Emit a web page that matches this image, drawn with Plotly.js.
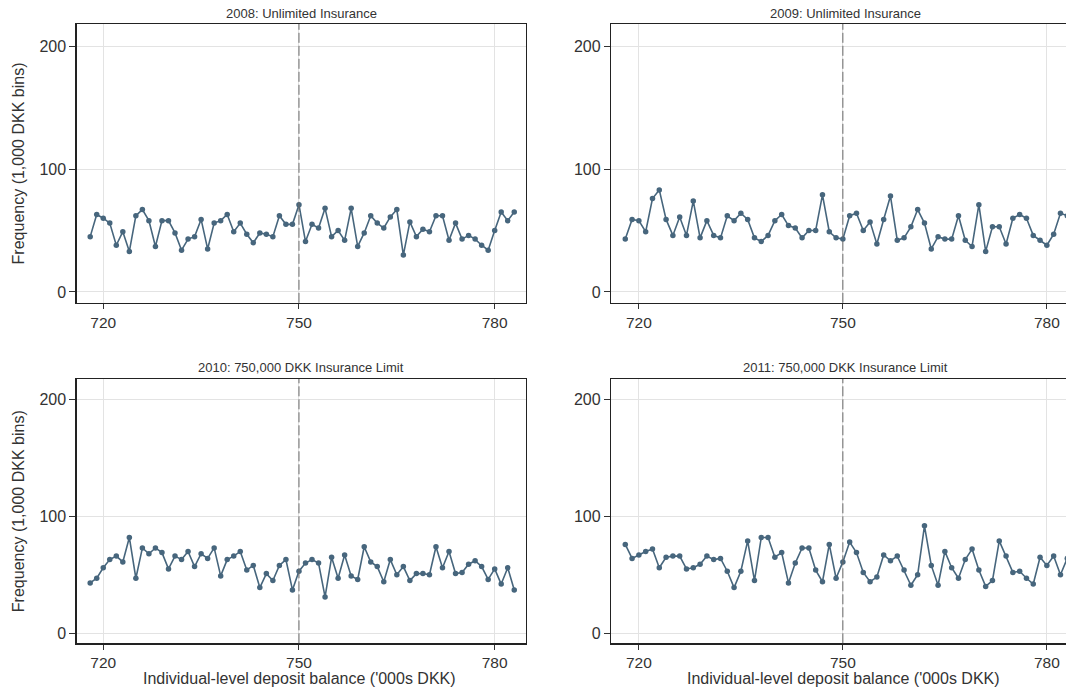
<!DOCTYPE html>
<html>
<head>
<meta charset="utf-8">
<script src="https://cdn.plot.ly/plotly-3.0.1.min.js"></script>
<style>
  html, body { margin: 0; padding: 0; overflow: hidden; background: #ffffff; }
  #chart { width: 1080px; height: 688px; }
</style>
</head>
<body>
<div id="chart"></div>
<script>
// Deposit balance bins ('000s DKK)
const bins = [718, 719, 720, 721, 722, 723, 724, 725, 726, 727,
              728, 729, 730, 731, 732, 733, 734, 735, 736, 737,
              738, 739, 740, 741, 742, 743, 744, 745, 746, 747,
              748, 749, 750, 751, 752, 753, 754, 755, 756, 757,
              758, 759, 760, 761, 762, 763, 764, 765, 766, 767,
              768, 769, 770, 771, 772, 773, 774, 775, 776, 777,
              778, 779, 780, 781, 782, 783];

// Number of depositors per 1,000 DKK bin, by year
const freq2008 = [45, 63, 60, 56, 38, 49, 33, 62, 67, 58,
                  37, 58, 58, 48, 34, 43, 45, 59, 35, 56,
                  58, 63, 49, 56, 47, 40, 48, 47, 45, 62,
                  55, 55, 71, 41, 55, 52, 68, 45, 50, 42,
                  68, 37, 48, 62, 56, 52, 61, 67, 30, 57,
                  45, 51, 49, 62, 62, 42, 56, 43, 46, 43,
                  38, 34, 50, 65, 58, 65];
const freq2009 = [43, 59, 58, 49, 76, 83, 59, 46, 61, 46,
                  74, 44, 58, 46, 44, 62, 58, 64, 59, 44,
                  41, 46, 58, 63, 54, 52, 44, 50, 50, 79,
                  49, 44, 43, 62, 64, 50, 57, 39, 59, 78,
                  42, 44, 53, 67, 56, 35, 45, 43, 43, 62,
                  42, 37, 71, 33, 53, 53, 39, 60, 63, 60,
                  46, 42, 38, 47, 64, 62];
const freq2010 = [43, 47, 56, 63, 66, 61, 82, 47, 73, 68,
                  73, 69, 55, 66, 63, 70, 57, 68, 64, 73,
                  49, 63, 66, 70, 54, 58, 39, 51, 45, 58,
                  63, 37, 53, 60, 63, 60, 31, 65, 47, 67,
                  49, 46, 74, 61, 57, 44, 63, 50, 57, 45,
                  51, 51, 50, 74, 56, 70, 51, 52, 59, 62,
                  57, 46, 55, 42, 56, 37];
const freq2011 = [76, 64, 67, 70, 72, 56, 65, 66, 66, 55,
                  56, 59, 66, 63, 64, 53, 39, 53, 79, 45,
                  82, 82, 65, 69, 43, 60, 73, 73, 54, 44,
                  76, 47, 61, 78, 69, 52, 44, 48, 67, 62,
                  66, 54, 41, 50, 92, 58, 41, 70, 56, 47,
                  63, 72, 54, 40, 45, 79, 66, 52, 53, 47,
                  42, 65, 58, 66, 50, 64];

const panelTitles = ['2008: Unlimited Insurance', '2009: Unlimited Insurance',
                     '2010: 750,000 DKK Insurance Limit', '2011: 750,000 DKK Insurance Limit'];
const xTickVals = [720, 750, 780];
const yTickVals = [0, 100, 200];
const limit = 750;
const yTitle = 'Frequency (1,000 DKK bins)';
const xTitle = "Individual-level deposit balance ('000s DKK)";

const W = 1080, H = 688;
const FONT = 'Liberation Sans, Arial, sans-serif';
const LINE = '#47667d';
const XR = [715.9, 784.8];

// Panel frames in pixels: [left, right] and [top, bottom]
const colPx = [[76.5, 526], [611, 1079.5]];
const rowPx = [[24, 302.8], [379, 643.3]];
const xdom = c => [colPx[c][0] / W, colPx[c][1] / W];
const ydom = r => [1 - rowPx[r][1] / H, 1 - rowPx[r][0] / H];
// pixel position of the insurance limit within a column
const limitPx = c => colPx[c][0] + (limit - XR[0]) / (XR[1] - XR[0]) * (colPx[c][1] - colPx[c][0]);

const series = [freq2008, freq2009, freq2010, freq2011];
const traces = [];
const layout = {
  width: W, height: H,
  margin: {l: 0, r: 0, t: 0, b: 0},
  paper_bgcolor: '#ffffff', plot_bgcolor: '#ffffff',
  showlegend: false,
  font: {family: FONT, color: '#333333'},
  annotations: [], shapes: []
};

series.forEach((vals, i) => {
  const r = Math.floor(i / 2), c = i % 2;
  const n = i === 0 ? '' : String(i + 1);
  traces.push({
    x: bins, y: vals, type: 'scatter', mode: 'lines+markers',
    xaxis: 'x' + n, yaxis: 'y' + n,
    line: {color: LINE, width: 1.6},
    marker: {color: LINE, size: 5.5},
    hoverinfo: 'x+y'
  });
  layout['xaxis' + n] = {
    domain: xdom(c), anchor: 'y' + n, range: XR,
    tickvals: xTickVals, ticktext: xTickVals.map(String),
    ticks: 'outside', ticklen: 5, tickwidth: 1, tickcolor: '#333333',
    tickfont: {size: 15.5, family: FONT, color: '#333333'},
    showgrid: true, gridcolor: '#e3e3e3', gridwidth: 1,
    showline: true, linecolor: '#222222', linewidth: 1.2, mirror: true,
    zeroline: false, fixedrange: true
  };
  layout['yaxis' + n] = {
    domain: ydom(r), anchor: 'x' + n, range: [-8.8, 217.9],
    tickvals: yTickVals, ticktext: yTickVals.map(String),
    ticks: 'outside', ticklen: 6, tickwidth: 1, tickcolor: '#333333',
    tickfont: {size: 16, family: FONT, color: '#333333'},
    showgrid: true, gridcolor: '#e3e3e3', gridwidth: 1,
    showline: true, linecolor: '#222222', linewidth: 1.2, mirror: true,
    zeroline: false, fixedrange: true
  };
  // Insurance limit marker
  layout.shapes.push({
    type: 'line', xref: 'x' + n, yref: 'y' + n + ' domain',
    x0: limit, x1: limit, y0: 0, y1: 1,
    line: {color: '#6a6a6a', width: 1, dash: '10px,3px'}
  });
  // Panel title
  const cx = (colPx[c][0] + colPx[c][1]) / 2 / W;
  layout.annotations.push({
    text: panelTitles[i], xref: 'paper', yref: 'paper',
    x: cx, y: 1 - (rowPx[r][0] - 11) / H, xanchor: 'center', yanchor: 'middle',
    showarrow: false, font: {size: 13, family: FONT, color: '#333333'}
  });
  // Shared axis titles on the outer panels
  if (c === 0) {
    layout.annotations.push({
      text: yTitle, xref: 'paper', yref: 'paper', textangle: -90,
      x: 18 / W, y: 1 - (rowPx[r][0] + rowPx[r][1]) / 2 / H,
      xanchor: 'center', yanchor: 'middle', showarrow: false,
      font: {size: 16, family: FONT, color: '#333333'}
    });
  }
  if (r === 1) {
    layout.annotations.push({
      text: xTitle, xref: 'paper', yref: 'paper',
      x: (limitPx(c) + 1) / W,
      y: 1 - 678 / H, xanchor: 'center', yanchor: 'middle', showarrow: false,
      font: {size: 16, family: FONT, color: '#333333'}
    });
  }
});

Plotly.newPlot('chart', traces, layout, {displayModeBar: false, staticPlot: true});
</script>
</body>
</html>
